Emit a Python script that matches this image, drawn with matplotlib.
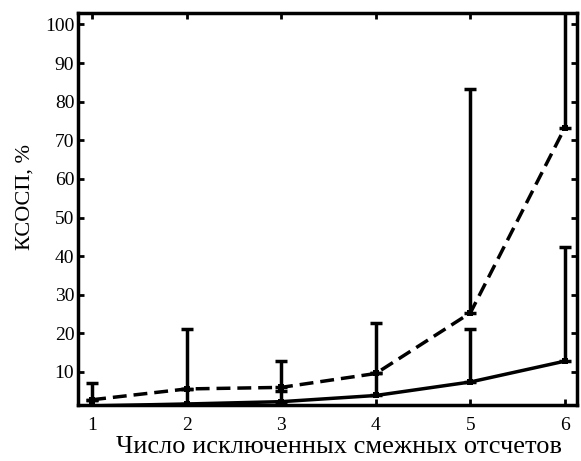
import matplotlib.pyplot as plt
import numpy as np

plt.rcParams["font.family"] = ["Liberation Serif", "DejaVu Serif"]

n_excluded = [1, 2, 3, 4, 5, 6]

# dashed curve: mean value and top of its error bar
mean_dash = [2.8, 5.6, 6.0, 9.6, 25.3, 73.3]
upper_dash = [7.2, 21.0, 12.8, 22.7, 83.3, 110.0]

# solid curve: mean value and top of its error bar
mean_solid = [1.2, 1.7, 2.3, 3.9, 7.4, 12.8]
upper_solid = [2.8, 5.6, 5.0, 9.6, 21.2, 42.4]

y_ticks = [10, 20, 30, 40, 50, 60, 70, 80, 90, 100]

fig = plt.figure(figsize=(5.81, 4.61), dpi=100)
ax = fig.add_axes([0.135, 0.122, 0.858, 0.85])

LW = 2.5

# one-sided error bars (upward only)
for mean, upper, ls in [(mean_solid, upper_solid, "-"), (mean_dash, upper_dash, (0, (4, 2)))]:
    m = np.array(mean)
    err = np.array(upper) - m
    ax.errorbar(n_excluded, m, yerr=[np.zeros_like(m), err],
                fmt="none", ecolor="black", elinewidth=LW, capsize=4.5, capthick=LW)
    ax.plot(n_excluded, m, color="black", lw=LW, linestyle=ls,
            marker="s", markersize=4, markeredgewidth=0)

ax.set_xlim(0.855, 6.127)
ax.set_ylim(1.5, 103)
ax.set_xticks(n_excluded)
ax.set_yticks(y_ticks)

for s in ax.spines.values():
    s.set_linewidth(LW)

ax.tick_params(direction="in", length=4, width=2, top=True, right=True,
               labelsize=14)
ax.tick_params(axis="x", pad=9)
ax.tick_params(axis="y", pad=3)

ax.set_xlabel("Число исключенных смежных отсчетов", fontsize=19)
ax.xaxis.set_label_coords(0.522, -0.08)
ax.set_ylabel("КСОСП, %", fontsize=16)
ax.yaxis.set_label_coords(-0.088, 0.53)

fig.savefig("out.png", dpi=100)
